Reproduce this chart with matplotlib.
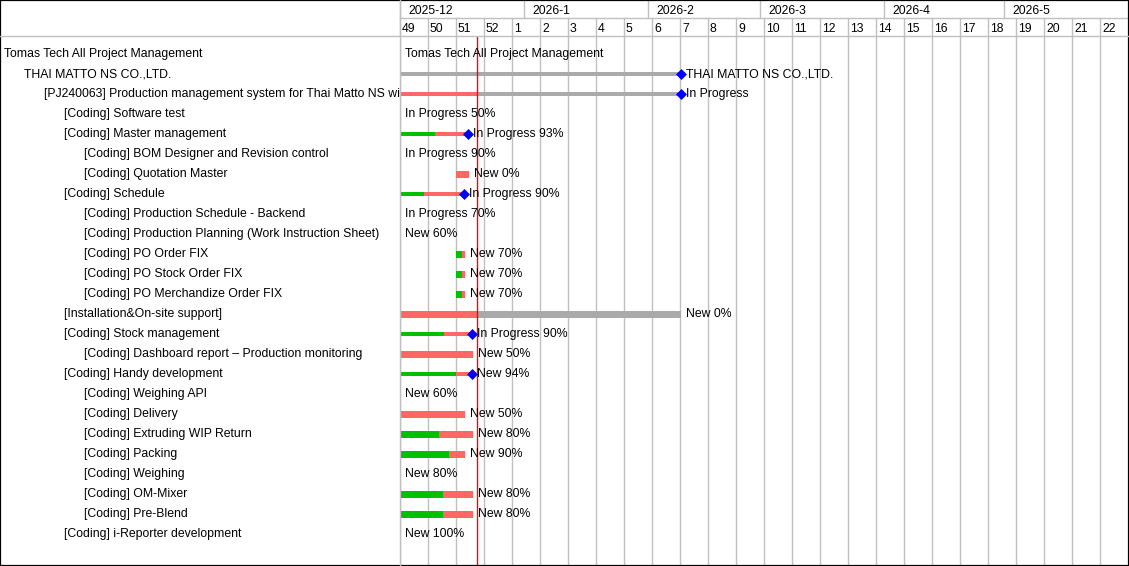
import matplotlib
matplotlib.use("Agg")
import matplotlib.pyplot as plt
import matplotlib.dates as mdates
import matplotlib.transforms as mtrans
from matplotlib.patches import Rectangle
import pandas as pd

# ---------------- data ----------------
view_start = "2025-12-01"
view_end = "2026-06-01"
today = "2025-12-20 04:00"

month_labels = ["2025-12", "2026-1", "2026-2", "2026-3", "2026-4", "2026-5"]
month_starts = ["2025-12-01", "2026-01-01", "2026-02-01", "2026-03-01", "2026-04-01", "2026-05-01"]
week_labels = ["49", "50", "51", "52", "1", "2", "3", "4", "5", "6", "7", "8", "9",
               "10", "11", "12", "13", "14", "15", "16", "17", "18", "19", "20", "21", "22"]
week_starts = list(pd.date_range("2025-12-01", periods=26, freq="7D").strftime("%Y-%m-%d"))

task_names = [
    "Tomas Tech All Project Management",
    "THAI MATTO NS CO.,LTD.",
    "[PJ240063] Production management system for Thai Matto NS wire",
    "[Coding] Software test",
    "[Coding] Master management",
    "[Coding] BOM Designer and Revision control",
    "[Coding] Quotation Master",
    "[Coding] Schedule",
    "[Coding] Production Schedule - Backend",
    "[Coding] Production Planning (Work Instruction Sheet)",
    "[Coding] PO Order FIX",
    "[Coding] PO Stock Order FIX",
    "[Coding] PO Merchandize Order FIX",
    "[Installation&On-site support]",
    "[Coding] Stock management",
    "[Coding] Dashboard report \u2013 Production monitoring",
    "[Coding] Handy development",
    "[Coding] Weighing API",
    "[Coding] Delivery",
    "[Coding] Extruding WIP Return",
    "[Coding] Packing",
    "[Coding] Weighing",
    "[Coding] OM-Mixer",
    "[Coding] Pre-Blend",
    "[Coding] i-Reporter development",
]
task_levels = [0, 1, 2, 3, 3, 4, 4, 3, 4, 4, 4, 4, 4, 3, 3, 4, 3, 4, 4, 4, 4, 4, 4, 4, 3]
status_labels = [
    "Tomas Tech All Project Management",
    "THAI MATTO NS CO.,LTD.",
    "In Progress",
    "In Progress 50%",
    "In Progress 93%",
    "In Progress 90%",
    "New 0%",
    "In Progress 90%",
    "In Progress 70%",
    "New 60%",
    "New 70%",
    "New 70%",
    "New 70%",
    "New 0%",
    "In Progress 90%",
    "New 50%",
    "New 94%",
    "New 60%",
    "New 50%",
    "New 80%",
    "New 90%",
    "New 80%",
    "New 80%",
    "New 80%",
    "New 100%",
]
is_summary = [True, True, True, False, True, False, False, True, False, False, False, False, False,
              False, True, False, True, False, False, False, False, False, False, False, False]

# visible bar segments (None = no bar within view)
# green: start -> done_until ; red: done_until -> late_until ; grey: late_until -> bar_end
bar_start = [None, "2025-12-01", "2025-12-01", None, "2025-12-01", None, "2025-12-15", "2025-12-01",
             None, None, "2025-12-15", "2025-12-15", "2025-12-15", "2025-12-01", "2025-12-01",
             "2025-12-01", "2025-12-01", None, "2025-12-01", "2025-12-01", "2025-12-01", None,
             "2025-12-01", "2025-12-01", None]
done_until = [None, "2025-12-01", "2025-12-01", None, "2025-12-09 18:00", None, "2025-12-15",
              "2025-12-07", None, None, "2025-12-16 12:00", "2025-12-16 12:00", "2025-12-16 12:00",
              "2025-12-01", "2025-12-12", "2025-12-01", "2025-12-15", None, "2025-12-01",
              "2025-12-10 18:00", "2025-12-13 06:00", None, "2025-12-11 18:00", "2025-12-11 18:00", None]
late_until = [None, "2025-12-01", "2025-12-20 04:00", None, "2025-12-18", None, "2025-12-18 06:00",
              "2025-12-17", None, None, "2025-12-17 06:00", "2025-12-17 06:00", "2025-12-17 06:00",
              "2025-12-20 04:00", "2025-12-19", "2025-12-19 06:00", "2025-12-19", None,
              "2025-12-17 06:00", "2025-12-19 06:00", "2025-12-17 06:00", None,
              "2025-12-19 06:00", "2025-12-19 06:00", None]
bar_end = [None, "2026-02-09 04:00", "2026-02-09 04:00", None, "2025-12-18", None, "2025-12-18 06:00",
           "2025-12-17", None, None, "2025-12-17 06:00", "2025-12-17 06:00", "2025-12-17 06:00",
           "2026-02-09 04:00", "2025-12-19", "2025-12-19 06:00", "2025-12-19", None,
           "2025-12-17 06:00", "2025-12-19 06:00", "2025-12-17 06:00", None,
           "2025-12-19 06:00", "2025-12-19 06:00", None]

# ---------------- style ----------------
W, H = 1129, 566
DPI = 100
FONT = "Liberation Sans"
FS = 8.8
GREEN = "#00C000"
RED = "#FF6666"
GREY = "#AAAAAA"
GRID = "#C0C0C0"
LEFT_W = 400
HEAD_H = 36
BODY_BOTTOM = 565
RIGHT = 1128

plt.rcParams["font.family"] = [FONT, "DejaVu Sans"]

fig = plt.figure(figsize=(W / DPI, H / DPI), dpi=DPI)
fig.patch.set_facecolor("white")


def px_axes(x0, y0, x1, y1):
    return fig.add_axes([x0 / W, 1 - y1 / H, (x1 - x0) / W, (y1 - y0) / H])


def d(s):
    return mdates.date2num(pd.Timestamp(s))


n = len(task_names)
row0_px = 52.8 - HEAD_H
body_h = BODY_BOTTOM - HEAD_H
y_top = -row0_px / 20.0
y_bot = (body_h - row0_px) / 20.0

ax_body = px_axes(LEFT_W, HEAD_H, RIGHT, BODY_BOTTOM)
ax_head = px_axes(LEFT_W, 0, RIGHT, HEAD_H)
ax_left = px_axes(0, HEAD_H, LEFT_W, BODY_BOTTOM)
for a in (ax_body, ax_head, ax_left):
    a.set_axis_off()
    a.patch.set_alpha(0)

xs, xe = d(view_start), d(view_end)
ax_body.set_xlim(xs, xe)
ax_body.set_ylim(y_bot, y_top)
ax_head.set_xlim(xs, xe)
ax_head.set_ylim(HEAD_H, 0)
ax_left.set_xlim(0, LEFT_W)
ax_left.set_ylim(y_bot, y_top)

# grid lines (weeks)
for ws in week_starts:
    ax_body.axvline(d(ws), color=GRID, lw=1.0, zorder=1)
    ax_head.plot([d(ws), d(ws)], [18, HEAD_H], color=GRID, lw=1.0, clip_on=False)
for ms in month_starts:
    ax_head.plot([d(ms), d(ms)], [0, 18], color=GRID, lw=1.0, clip_on=False)
ax_head.plot([xs, xe], [18, 18], color=GRID, lw=1.0, clip_on=False)
# header bottom line across the full width
fig.add_artist(plt.Line2D([0, 1], [1 - HEAD_H / H, 1 - HEAD_H / H], transform=fig.transFigure,
                          color=GRID, lw=1.0))
fig.add_artist(plt.Line2D([LEFT_W / W, LEFT_W / W], [0, 1], transform=fig.transFigure,
                          color=GRID, lw=1.0))

# header labels
off_m = mtrans.offset_copy(ax_head.transData, fig=fig, x=8, y=0, units="dots")
off_w = mtrans.offset_copy(ax_head.transData, fig=fig, x=2, y=0, units="dots")
for lab, ms in zip(month_labels, month_starts):
    ax_head.text(d(ms), 14.4, lab, transform=off_m, fontsize=FS, ha="left", va="baseline", color="black")
for lab, ws in zip(week_labels, week_starts):
    ax_head.text(d(ws), 31.6, lab, transform=off_w, fontsize=FS, ha="left", va="baseline", color="black")

# task names (left panel)
for i, (name, lvl) in enumerate(zip(task_names, task_levels)):
    ax_left.text(4 + 20 * lvl, i + 0.215, name, fontsize=FS, ha="left", va="baseline",
                 color="black", clip_on=True)

# bars
off_lab = mtrans.offset_copy(ax_body.transData, fig=fig, x=5, y=0, units="dots")
for i in range(n):
    yc = i + 0.07
    if bar_start[i] is None:
        ax_body.text(xs, i + 0.215, status_labels[i], transform=off_lab, fontsize=FS,
                     ha="left", va="baseline", color="black", zorder=5)
        continue
    h = 0.2 if is_summary[i] else 0.36
    s, g, r, e = d(bar_start[i]), d(done_until[i]), d(late_until[i]), d(bar_end[i])
    if g > s:
        ax_body.barh(yc, g - s, left=s, height=h, color=GREEN, linewidth=0, zorder=3)
    if r > g:
        ax_body.barh(yc, r - g, left=g, height=h, color=RED, linewidth=0, zorder=3)
    if e > r:
        ax_body.barh(yc, e - r, left=r, height=h, color=GREY, linewidth=0, zorder=3)
    if is_summary[i]:
        ax_body.plot([e], [yc], marker="D", ms=4.8, color="#0000FF", mec="#0000FF", mew=0.5, zorder=6)
    ax_body.text(e, i + 0.215, status_labels[i], transform=off_lab, fontsize=FS,
                 ha="left", va="baseline", color="black", zorder=5)

# today line
ax_body.axvline(d(today), color="#FF0000", lw=1.0, zorder=4)

# outer border
fig.add_artist(Rectangle((0, 0), 1, 1, transform=fig.transFigure, fill=False,
                         edgecolor="black", lw=1.6))

fig.savefig("out.png", dpi=DPI, facecolor="white")
